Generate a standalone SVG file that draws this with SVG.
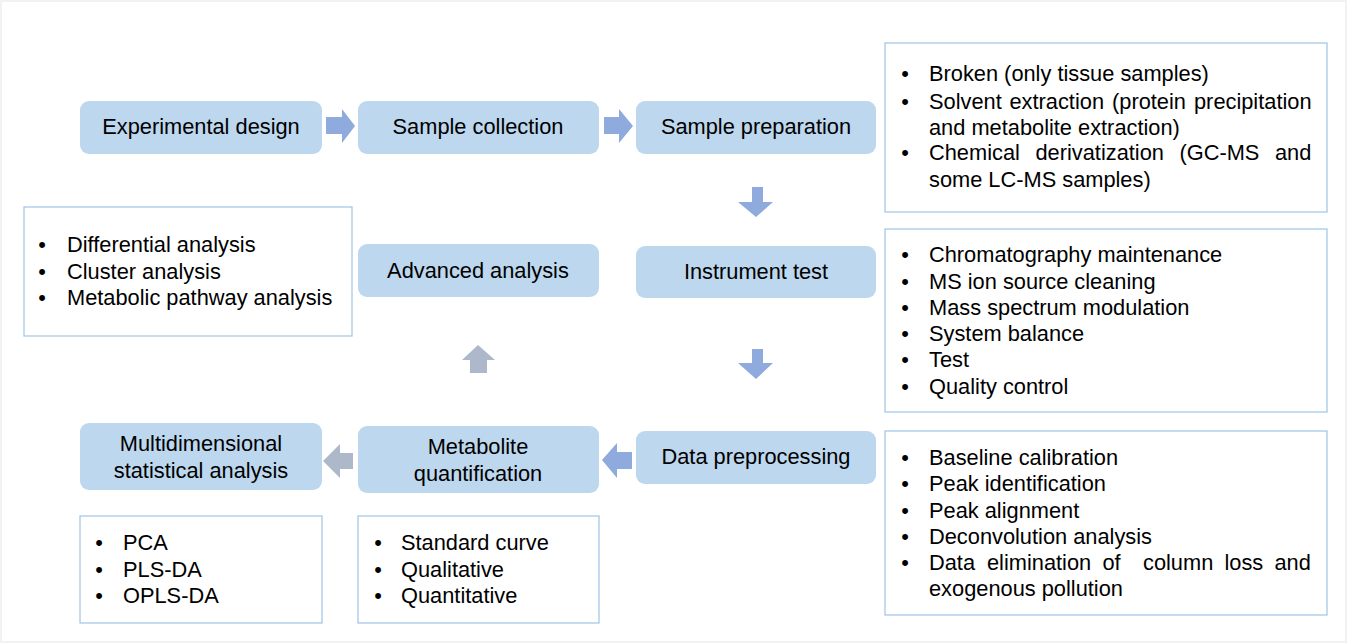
<svg xmlns="http://www.w3.org/2000/svg" width="1347" height="643" viewBox="0 0 1347 643">
<style>
text{font-family:"Liberation Sans",Arial,sans-serif;font-size:21.8px;fill:#000}
.node{fill:#bdd7ee}
.box{fill:#fff;stroke:#9dc3e6;stroke-width:1.2}
.c{text-anchor:middle}
.b{text-anchor:middle}
.ab{fill:#8faadc}
.ag{fill:#adb9ca}
</style>
<rect x="0" y="0" width="1347" height="643" fill="#f2f2f2"/>
<rect x="2" y="2" width="1343" height="639" fill="#fff"/>

<g id="connectors">
<polygon class="ab" points="326,117 342,117 342,109 355,126 342,143 342,134 326,134"/>
<polygon class="ab" points="604,117 619,117 619,109 633,126 619,143 619,134 604,134"/>
<polygon class="ab" points="752,187 763,187 763,202 773,202 756,217 738,202 752,202"/>
<polygon class="ab" points="752,349 763,349 763,363 773,363 756,379 738,363 752,363"/>
<polygon class="ab" points="632,452 617,452 617,443 602,460 617,478 617,469 632,469"/>
<polygon class="ag" points="353,453 340,453 340,444 323,461 340,478 340,469 353,469"/>
<polygon class="ag" points="470,373 487,373 487,360 495,360 478,345 462,360 470,360"/>
</g>

<g id="experimental-design"><rect class="node" x="80" y="101" width="242" height="53" rx="9"/><text class="c" x="201" y="134">Experimental design</text></g>
<g id="sample-collection"><rect class="node" x="358" y="101" width="241" height="53" rx="9"/><text class="c" x="478" y="134">Sample collection</text></g>
<g id="sample-preparation"><rect class="node" x="636" y="101" width="240" height="53" rx="9"/><text class="c" x="756" y="134">Sample preparation</text></g>
<g id="advanced-analysis"><rect class="node" x="358" y="244" width="241" height="53" rx="9"/><text class="c" x="478" y="278">Advanced analysis</text></g>
<g id="instrument-test"><rect class="node" x="636" y="246" width="240" height="52" rx="9"/><text class="c" x="756" y="279">Instrument test</text></g>
<g id="data-preprocessing"><rect class="node" x="636" y="431" width="240" height="53" rx="9"/><text class="c" x="756" y="464">Data preprocessing</text></g>
<g id="metabolite-quantification"><rect class="node" x="358" y="426" width="241" height="67" rx="9"/><text class="c" x="478" y="454">Metabolite</text><text class="c" x="478" y="481">quantification</text></g>
<g id="multidimensional-analysis"><rect class="node" x="80" y="423" width="242" height="67" rx="9"/><text class="c" x="201" y="451">Multidimensional</text><text class="c" x="201" y="478">statistical analysis</text></g>

<g id="preparation-details"><rect class="box" x="885" y="43" width="442" height="169"/>
<text class="b" x="905" y="81">•</text><text x="929" y="81">Broken (only tissue samples)</text>
<text class="b" x="905" y="109">•</text><text y="109"><tspan x="929">Solvent</tspan><tspan x="1009.5">extraction</tspan><tspan x="1112">(protein</tspan><tspan x="1194">precipitation</tspan></text>
<text x="929" y="135">and metabolite extraction)</text>
<text class="b" x="905" y="160">•</text><text y="160"><tspan x="929">Chemical</tspan><tspan x="1035.5">derivatization</tspan><tspan x="1179.5">(GC-MS</tspan><tspan x="1275">and</tspan></text>
<text x="929" y="187">some LC-MS samples)</text>
</g>

<g id="instrument-details"><rect class="box" x="885" y="229" width="442" height="183"/>
<text class="b" x="905" y="262">•</text><text x="929" y="262">Chromatography maintenance</text>
<text class="b" x="905" y="289">•</text><text x="929" y="289">MS ion source cleaning</text>
<text class="b" x="905" y="315">•</text><text x="929" y="315">Mass spectrum modulation</text>
<text class="b" x="905" y="341">•</text><text x="929" y="341">System balance</text>
<text class="b" x="905" y="367">•</text><text x="929" y="367">Test</text>
<text class="b" x="905" y="394">•</text><text x="929" y="394">Quality control</text>
</g>

<g id="preprocessing-details"><rect class="box" x="885" y="431" width="442" height="184"/>
<text class="b" x="905" y="465">•</text><text x="929" y="465">Baseline calibration</text>
<text class="b" x="905" y="491">•</text><text x="929" y="491">Peak identification</text>
<text class="b" x="905" y="518">•</text><text x="929" y="518">Peak alignment</text>
<text class="b" x="905" y="544">•</text><text x="929" y="544">Deconvolution analysis</text>
<text class="b" x="905" y="570">•</text><text y="570"><tspan x="929">Data</tspan><tspan x="987">elimination</tspan><tspan x="1102.5">of</tspan><tspan x="1143">column</tspan><tspan x="1224.5">loss</tspan><tspan x="1274.5">and</tspan></text>
<text x="929" y="596">exogenous pollution</text>
</g>

<g id="advanced-details"><rect class="box" x="24" y="207" width="328" height="129"/>
<text class="b" x="42" y="252">•</text><text x="67" y="252">Differential analysis</text>
<text class="b" x="42" y="279">•</text><text x="67" y="279">Cluster analysis</text>
<text class="b" x="42" y="305">•</text><text x="67" y="305">Metabolic pathway analysis</text>
</g>

<g id="statistical-details"><rect class="box" x="80" y="516" width="242" height="107"/>
<text class="b" x="99" y="550">•</text><text x="123" y="550">PCA</text>
<text class="b" x="99" y="577">•</text><text x="123" y="577">PLS-DA</text>
<text class="b" x="99" y="603">•</text><text x="123" y="603">OPLS-DA</text>
</g>

<g id="quantification-details"><rect class="box" x="358" y="516" width="241" height="107"/>
<text class="b" x="378" y="550">•</text><text x="401" y="550">Standard curve</text>
<text class="b" x="378" y="577">•</text><text x="401" y="577">Qualitative</text>
<text class="b" x="378" y="603">•</text><text x="401" y="603">Quantitative</text>
</g>
</svg>
